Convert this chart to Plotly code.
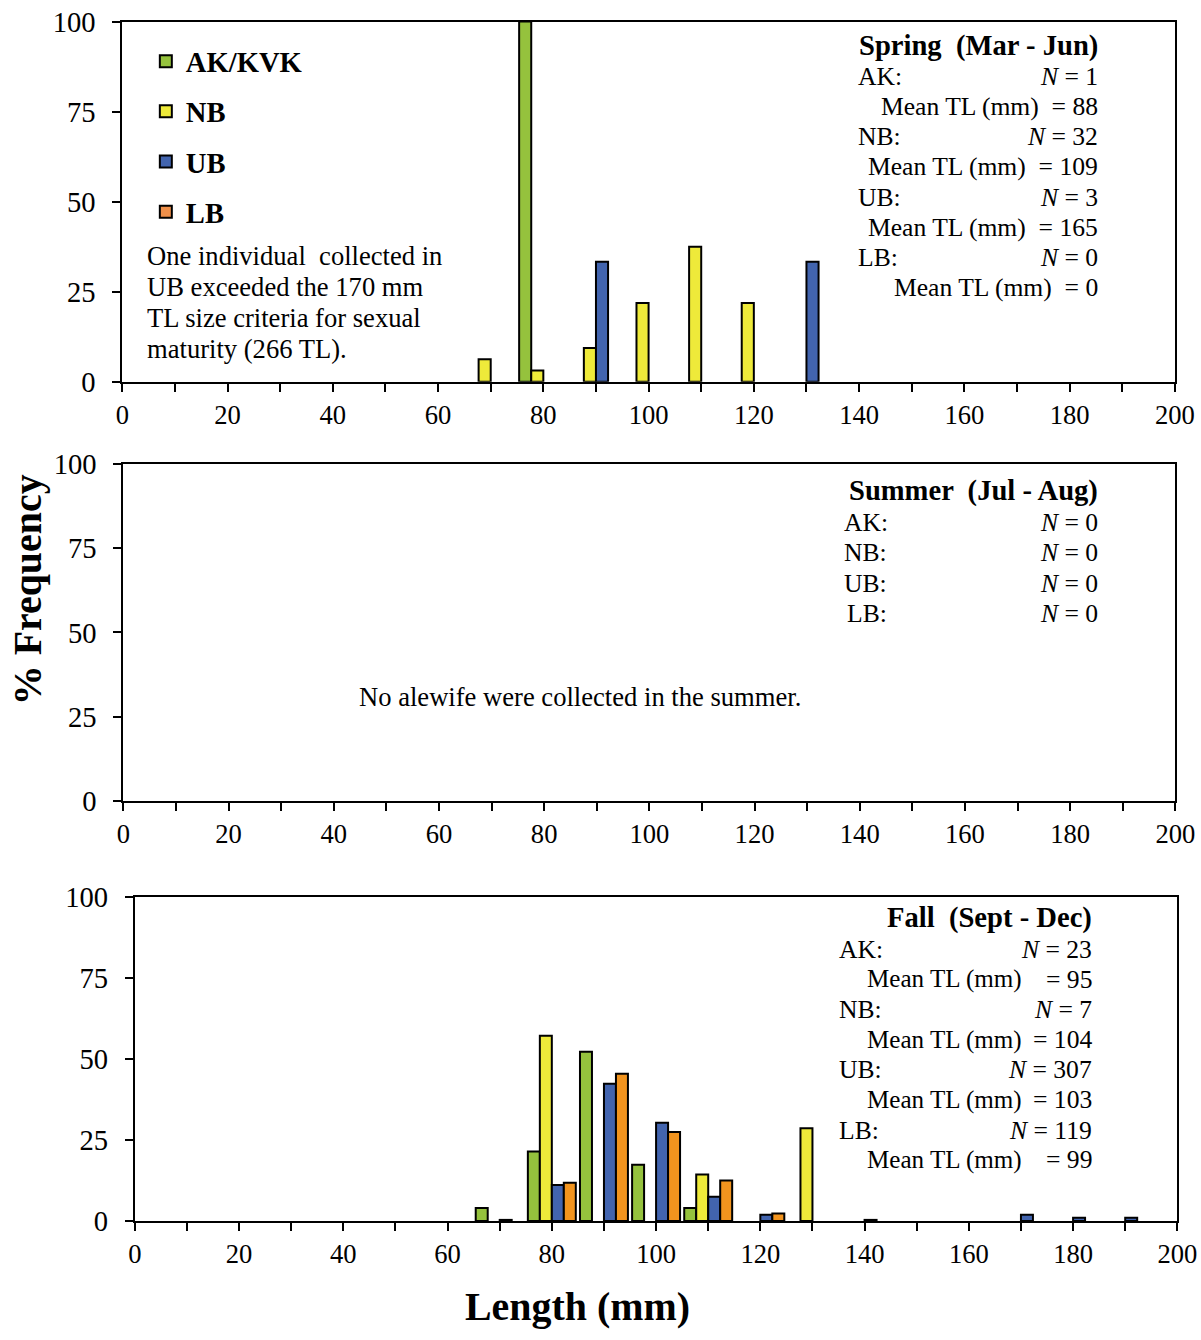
import plotly.graph_objects as go

# Length bins (mm), bar groups centred on each bin
bins = [70, 80, 90, 100, 110, 120, 130, 140, 150, 160, 170, 180, 190]
series = ["AK/KVK", "NB", "UB", "LB"]

# % frequency by bin, Spring (Mar - Jun)
spring_ak = [None, 100, None, None, None, None, None, None, None, None, None, None, None]
spring_nb = [6.25, 3.13, 9.38, 21.88, 37.5, 21.88, None, None, None, None, None, None, None]
spring_ub = [None, None, 33.33, None, None, None, 33.33, None, None, None, None, None, None]
spring_lb = [None, None, None, None, None, None, None, None, None, None, None, None, None]

# Summer (Jul - Aug): nothing collected
summer_ak = [None] * 13
summer_nb = [None] * 13
summer_ub = [None] * 13
summer_lb = [None] * 13

# Fall (Sept - Dec)
fall_ak = [4.0, 21.4, 52.2, 17.3, 4.0, None, None, None, None, None, None, None, None]
fall_nb = [None, 57.1, None, None, 14.3, None, 28.6, None, None, None, None, None, None]
fall_ub = [0.33, 11.1, 42.3, 30.3, 7.5, 1.95, None, 0.33, None, None, 1.95, 0.98, 0.98]
fall_lb = [None, 11.8, 45.4, 27.4, 12.5, 2.3, None, None, None, None, None, None, None]

x_ticks = list(range(0, 201, 10))
x_labels = [str(v) if v % 20 == 0 else "" for v in x_ticks]
y_ticks = [0, 25, 50, 75, 100]

colors = ["#95C23D", "#EEEA3A", "#4264AE", "#F2941E"]
legend_colors = ["#95C23D", "#EEEA3A", "#4264AE", "#F0904A"]

W, H = 1201, 1340
FONT = "Liberation Serif"
# layout page placement: page px = scale * figure px + offset
SX, OXP = 0.978, 7.1
SY, OYP = 0.979, 13.4
FS = 1 / SX


def px_x(p):
    return ((p - OXP) / SX) / W


def px_y(p):
    return 1 - ((p - OYP) / SY) / H


def fs(v):
    return round(v * FS, 1)


fig = go.Figure()

panels = [
    ("x", "y", [spring_ak, spring_nb, spring_ub, spring_lb], True),
    ("x2", "y2", [summer_ak, summer_nb, summer_ub, summer_lb], False),
    ("x3", "y3", [fall_ak, fall_nb, fall_ub, fall_lb], False),
]

for xa, ya, values, show in panels:
    for i, (name, vals) in enumerate(zip(series, values)):
        fig.add_trace(go.Bar(
            x=bins, y=vals, name=name, xaxis=xa, yaxis=ya,
            offsetgroup=str(i), legendgroup=name, showlegend=show,
            marker=dict(color=legend_colors[i] if show and all(v is None for v in vals) else colors[i],
                        line=dict(color="black", width=2)),
        ))

# Panel boxes in page pixels (left, right, top, bottom)
boxes = [(122.5, 1175.5, 20, 381), (123.5, 1176, 463.5, 801), (135, 1178, 897, 1222)]

axis_common = dict(
    showline=True, linecolor="black", linewidth=2, mirror=True,
    showgrid=False, zeroline=False, ticks="outside", tickcolor="black",
    ticklen=8, tickwidth=1.5, ticklabeloverflow="allow",
)

layout_axes = {}
for k, (l, r, t, b) in enumerate(boxes):
    sfx = "" if k == 0 else str(k + 1)
    layout_axes["xaxis" + sfx] = dict(
        axis_common, domain=[px_x(l), px_x(r)], range=[0, 200],
        anchor="y" + sfx, tickmode="array", tickvals=x_ticks, ticktext=x_labels,
        tickfont=dict(family=FONT, size=fs(26), color="black"), ticklabelstandoff=0,
    )
    layout_axes["yaxis" + sfx] = dict(
        axis_common, domain=[px_y(b), px_y(t)], range=[0, 100],
        anchor="x" + sfx, tickmode="array", tickvals=y_ticks,
        tickfont=dict(family=FONT, size=fs(28), color="black"), ticklabelstandoff=11,
    )

annotations = []


def note(text, x, y, anchor="left", size=25, bold=False):
    annotations.append(dict(
        text=f"<b>{text}</b>" if bold else text, xref="paper", yref="paper",
        x=px_x(x), y=px_y(y), xanchor=anchor, yanchor="middle", showarrow=False,
        font=dict(family=FONT, size=fs(size), color="black"),
    ))


# Spring summary
note("Spring  (Mar - Jun)", 1101, 44, "right", 28, True)
spring_rows = [("AK:", "1", "88"), ("NB:", "32", "109"), ("UB:", "3", "165"), ("LB:", "0", "0")]
y0 = 75
for lab, n, m in spring_rows:
    note(lab, 857, y0)
    note(f"<i>N</i> = {n}", 1101, y0, "right")
    note(f"Mean TL (mm)  = {m}", 1101, y0 + 30, "right")
    y0 += 60.5

# Spring note
for j, line in enumerate(["One individual  collected in", "UB exceeded the 170 mm",
                          "TL size criteria for sexual", "maturity (266 TL)."]):
    note(line, 145, 255 + 31 * j, size=26)

# Summer summary
note("Summer  (Jul - Aug)", 1101, 490, "right", 28, True)
for j, lab in enumerate(["AK:", "NB:", "UB:", "LB:"]):
    note(lab, 843 + (3 if lab == "LB:" else 0), 522 + 30.5 * j)
    note("<i>N</i> = 0", 1101, 522 + 30.5 * j, "right")
note("No alewife were collected in the summer.", 580, 697, "center", 26)

# Fall summary
note("Fall  (Sept - Dec)", 1095, 918, "right", 28, True)
fall_rows = [("AK:", "23", "95"), ("NB:", "7", "104"), ("UB:", "307", "103"), ("LB:", "119", "99")]
y0 = 950
for lab, n, m in fall_rows:
    note(lab, 838, y0)
    note(f"<i>N</i> = {n}", 1095, y0, "right")
    note("Mean TL (mm)", 866, y0 + 30, size=24.5)
    note(f"= {m}", 1095, y0 + 30, "right")
    y0 += 60.3

# Axis titles
annotations.append(dict(
    text="<b>% Frequency</b>", xref="paper", yref="paper", x=px_x(27), y=px_y(589),
    xanchor="center", yanchor="middle", textangle=-90, showarrow=False,
    font=dict(family=FONT, size=fs(39), color="black"),
))
annotations.append(dict(
    text="<b>Length (mm)</b>", xref="paper", yref="paper", x=px_x(578), y=px_y(1308),
    xanchor="center", yanchor="middle", showarrow=False,
    font=dict(family=FONT, size=fs(39), color="black"),
))

fig.update_layout(
    width=W, height=H, margin=dict(l=0, r=0, t=0, b=0),
    paper_bgcolor="white", plot_bgcolor="white",
    barmode="group", bargap=0.08, bargroupgap=0,
    annotations=annotations,
    legend=dict(
        x=px_x(146), y=px_y(34.5), xanchor="left", yanchor="top",
        bgcolor="rgba(0,0,0,0)", tracegroupgap=10, traceorder="grouped",
        font=dict(family=FONT, size=fs(28), color="black", weight="bold"),
        itemwidth=30,
    ),
    **layout_axes,
)

fig.write_html("out.html")
